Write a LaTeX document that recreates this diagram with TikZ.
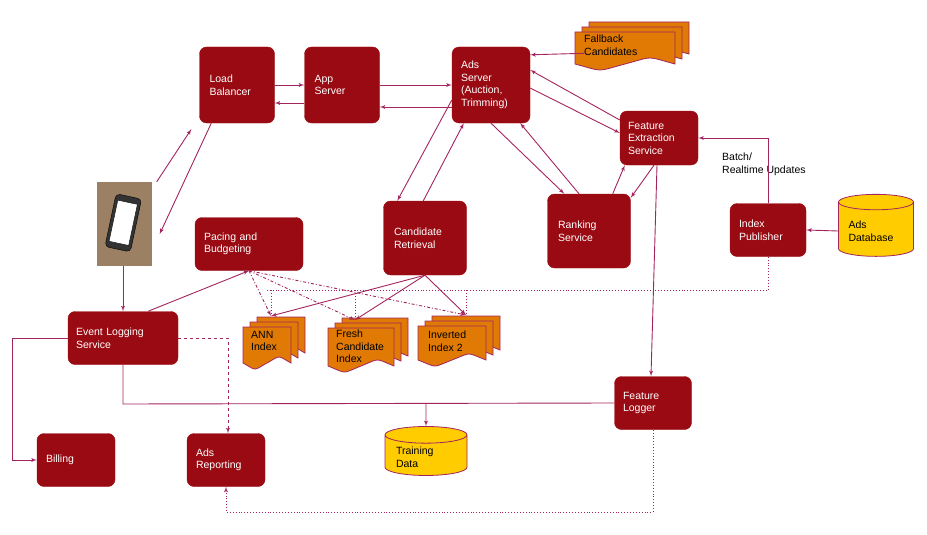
\documentclass[tikz,border=0pt]{standalone}
\usepackage{fontspec}
\setmainfont{Liberation Sans}
\usetikzlibrary{positioning}
\usetikzlibrary{arrows}
\usetikzlibrary{shapes.geometric}

\definecolor{boxred}{HTML}{9A0A12}
\definecolor{linered}{HTML}{A3245E}
\definecolor{docorange}{HTML}{E07A05}
\definecolor{dbyellow}{HTML}{FFCC00}

% one page of a document stack, top left at (#1,#2), size #3 x #4
\newcommand{\docpage}[4]{%
  \draw[linered, fill=docorange, line width=0.8pt] (#1,#2) -- ++(#3,0) -- ++(0,#4)
    .. controls +(-0.3*#3,-8) and +(0.3*#3,-8) .. ++(-0.5*#3,0)
    .. controls +(-0.3*#3,8) and +(0.3*#3,8) .. ++(-0.5*#3,0) -- cycle;}
\newcommand{\docstack}[4]{%
  \docpage{#1+14}{#2-10}{#3}{#4}
  \docpage{#1+7}{#2-5}{#3}{#4}
  \docpage{#1}{#2}{#3}{#4}}

\begin{document}
\begin{tikzpicture}[x=1pt,y=-1pt,
service/.style={rectangle, rounded corners=7pt, draw=boxred, fill=boxred, text=white,
  align=left, font=\fontsize{10.5}{12.5}\selectfont, inner sep=0pt},
doctext/.style={draw=none, align=left, font=\fontsize{10.5}{12.5}\selectfont, anchor=north west, inner sep=0pt},
database/.style={cylinder, shape border rotate=90, aspect=0.25, draw=linered, fill=dbyellow,
  line width=0.8pt, align=left, font=\fontsize{10.5}{12.5}\selectfont},
edge/.style={->,> = latex', draw=linered, line width=0.9pt},
dotedge/.style={draw=linered, line width=0.9pt, dotted},
dashedge/.style={edge, dashed},
dashdotedge/.style={edge, dash dot}
]
\useasboundingbox (0,0) rectangle (927,535);

%Nodes
\node[service, minimum width=75pt, minimum height=76pt, text width=55pt] (lb) at (237,85) {Load\\Balancer};
\node[service, minimum width=75pt, minimum height=76pt, text width=55pt] (app) at (342,85) {App\\Server};
\node[service, minimum width=78pt, minimum height=76pt, text width=60pt] (ads) at (491,85) {Ads\\Server\\(Auction,\\Trimming)};
\node[service, minimum width=78pt, minimum height=54pt, text width=62pt] (fes) at (659,138) {Feature\\Extraction\\Service};
\node[service, minimum width=108pt, minimum height=53pt, text width=90pt] (pacing) at (249,244) {Pacing and\\Budgeting};
\node[service, minimum width=83pt, minimum height=74pt, text width=62pt] (cr) at (425,238) {Candidate\\Retrieval};
\node[service, minimum width=83pt, minimum height=74pt, text width=62pt] (rank) at (589,231) {Ranking\\Service};
\node[service, minimum width=76pt, minimum height=53pt, text width=58pt] (ip) at (768,230) {Index\\Publisher};
\node[service, minimum width=110pt, minimum height=53pt, text width=94pt] (els) at (123,338) {Event Logging\\Service};
\node[service, minimum width=77pt, minimum height=53pt, text width=60pt] (fl) at (653,403) {Feature\\Logger};
\node[service, minimum width=78pt, minimum height=53pt, text width=60pt] (bill) at (76,460) {Billing};
\node[service, minimum width=78pt, minimum height=53pt, text width=60pt] (rep) at (226,460) {Ads\\Reporting};
\node[database, minimum width=75pt, minimum height=62pt, text width=55pt] (adsdb) at (876,231) {Ads\\Database};
\node[database, minimum width=82pt, minimum height=44pt, text width=60pt] (train) at (426,457) {Training\\Data};
\node[draw=none, align=left, anchor=north west, inner sep=0pt, font=\fontsize{10.5}{12.5}\selectfont] (upd) at (722,153) {Batch/\\Realtime Updates};

%Phone
\node[rectangle, fill=gray!55!brown, minimum width=55pt, minimum height=84pt, inner sep=0pt] (phone) at (124,224) {};
\draw[fill=black!80, rounded corners=4pt, rotate around={-12:(124,224)}] (110,196) rectangle (136,250);
\draw[fill=white, rotate around={-12:(124,224)}] (113,202) rectangle (133,244);

%Docs
\docstack{575}{32}{100}{32}
\node[doctext] (fallback) at (584,35) {Fallback\\Candidates};
\docstack{243}{327}{48}{36}
\node[doctext] (ann) at (251,331) {ANN\\Index};
\docstack{328}{328}{66}{38}
\node[doctext] (fresh) at (336,330) {Fresh\\Candidate\\Index};
\docstack{418}{326}{68}{34}
\node[doctext] (inv) at (428,331) {Inverted\\Index 2};

\coordinate (annt) at (271,316);
\coordinate (fresht) at (355,320);
\coordinate (invt) at (466,315);

%Edges
\draw[edge] ([xshift=5pt]phone.north east) -- ([xshift=-8pt,yshift=-6pt]lb.south west);
\draw[edge] ([xshift=12pt]lb.south west) -- ([xshift=8pt,yshift=-10pt]phone.east);
\draw[edge] ([yshift=0pt]lb.east) -- ([yshift=0pt]app.west);
\draw[edge] ([yshift=-18pt]app.west) -- ([yshift=-18pt]lb.east);
\draw[edge] ([yshift=0pt]app.east) -- ([yshift=0pt]ads.west);
\draw[edge] ([yshift=-22pt]ads.west) -- ([yshift=-22pt]app.east);
\draw[edge] ([yshift=-8pt]fallback.west) -- ([yshift=-8pt]ads.north east);
\draw[edge] ([yshift=-3pt]ads.east) -- ([yshift=5pt]fes.west);
\draw[edge] ([yshift=18pt]fes.west) -- ([yshift=15pt]ads.east);
\draw[edge] ([yshift=-15pt]ads.west) -- ([xshift=14pt]cr.north west);
\draw[edge] ([xshift=40pt]cr.north west) -- ([xshift=12pt]ads.south west);
\draw[edge] (ads.south) -- ([xshift=17pt]rank.north west);
\draw[edge] ([xshift=-10pt]rank.north) -- ([xshift=-10pt]ads.south east);
\draw[edge] ([xshift=-18pt]rank.north east) -- ([xshift=5pt]fes.south west);
\draw[edge] ([xshift=-5pt]fes.south) -- ([yshift=-4pt]rank.north east);
\draw[edge] (ip.north) -- (ip.north |- fes.east) -- (fes.east);
\draw[edge] (adsdb.west) -- (ip.east);
\draw[edge] ([xshift=-2pt]fes.south) -- ([xshift=-2pt]fl.north);
\draw[dotedge] (ip.south) -- (768,290) -- (267,290);
\draw[dotedge] (annt |- 0,290) -- (annt);
\draw[dotedge] (fresht |- 0,290) -- (fresht);
\draw[dotedge] (invt |- 0,290) -- (invt);
\draw[dashdotedge] (pacing.south) -- (annt);
\draw[dashdotedge] (pacing.south) -- (fresht);
\draw[dashdotedge] (pacing.south) -- (invt);
\draw[edge] (cr.south) -- (annt);
\draw[edge] (cr.south) -- (fresht);
\draw[edge] (cr.south) -- (invt);
\draw[edge] ([xshift=-1pt]phone.south) -- ([xshift=0pt]els.north);
\draw[edge] ([xshift=25pt]els.north) -- (pacing.south);
\draw[edge] (els.west) -- (12,338) -- (12,460) -- (bill.west);
\draw[dashedge] (els.east) -- (228,338) -- ([xshift=2pt]rep.north);
\draw[draw=linered, line width=0.9pt] (els.south) -- (123,404) -- (fl.west);
\draw[edge] (426,404) -- (train.north);
\draw[edge, dotted] (fl.south) -- (fl.south |- 0,512) -- (226,512) -- (rep.south);

\end{tikzpicture}
\end{document}
